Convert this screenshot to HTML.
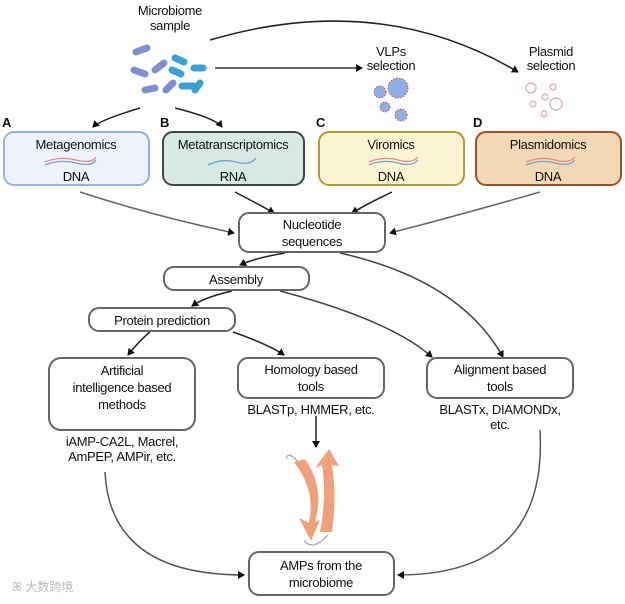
<!DOCTYPE html>
<html><head><meta charset="utf-8"><style>
body{margin:0;background:#fff;}
svg text{font-family:"Liberation Sans",sans-serif;fill:#111;}
</style></head><body>
<svg width="625" height="599" viewBox="0 0 625 599" xmlns="http://www.w3.org/2000/svg">
<defs>
<marker id="ah" markerWidth="8" markerHeight="8" refX="6" refY="4" orient="auto" markerUnits="userSpaceOnUse"><path d="M0,0 L7,4 L0,8 z" fill="#111"/></marker>
</defs>
<g font-size="13" text-anchor="middle" letter-spacing="-0.3">
<text x="170" y="15">Microbiome</text><text x="170" y="30">sample</text>
<text x="391" y="56">VLPs</text><text x="391" y="70">selection</text>
<text x="551" y="56">Plasmid</text><text x="551" y="70">selection</text>
</g>
<!-- bacteria -->
<g stroke-width="7" stroke-linecap="round">
<line x1="136" y1="52" x2="147" y2="48" stroke="#7d8fd1"/>
<line x1="134" y1="70" x2="145" y2="74" stroke="#7d8fd1"/>
<line x1="155" y1="70" x2="164" y2="63" stroke="#7d8fd1"/>
<line x1="145" y1="90" x2="155" y2="88" stroke="#7d8fd1"/>
<line x1="166" y1="90" x2="173" y2="83" stroke="#7d8fd1"/>
<line x1="175" y1="58" x2="184" y2="62" stroke="#3aa0d6"/>
<line x1="172" y1="70" x2="181" y2="74" stroke="#3aa0d6"/>
<line x1="182" y1="86" x2="193" y2="86" stroke="#3aa0d6"/>
<line x1="194" y1="68" x2="203" y2="68" stroke="#3aa0d6"/>
<line x1="195" y1="90" x2="200" y2="83" stroke="#3aa0d6"/>
</g>
<!-- VLPs -->
<g stroke="#d04a4a" stroke-width="1" stroke-dasharray="1.5 1.5" fill="#90aee6">
<circle cx="380" cy="92" r="6"/><circle cx="398" cy="88" r="10"/><circle cx="385" cy="107" r="5"/><circle cx="401" cy="115" r="6"/>
</g>
<g stroke="#d9a8ae" stroke-width="1.2" fill="none">
<circle cx="531" cy="88" r="5"/><circle cx="553" cy="87" r="3"/><circle cx="545" cy="97" r="3"/><circle cx="556" cy="104" r="6"/><circle cx="533" cy="104" r="3"/><circle cx="544" cy="114" r="3"/>
</g>
<!-- top arrows -->
<g fill="none" stroke-width="1.5">
<path d="M215 68 L362 68" stroke="#333" marker-end="url(#ah)"/>
<path d="M210 40 Q380 -10 518 72" stroke="#222" marker-end="url(#ah)"/>
<path d="M140 108 Q100 120 93 127" stroke="#222" marker-end="url(#ah)"/>
<path d="M175 108 Q215 118 222 127" stroke="#222" marker-end="url(#ah)"/>
</g>
<g font-size="13" font-weight="bold"><text x="2" y="127">A</text><text x="160" y="127">B</text><text x="316" y="127">C</text><text x="473" y="127">D</text></g>
<!-- omics boxes -->
<g stroke-width="2">
<rect x="4" y="132" width="145" height="53" rx="10" fill="#eef3fb" stroke="#93b2e0"/>
<rect x="163" y="132" width="141" height="53" rx="10" fill="#d8e8e4" stroke="#3b4a48"/>
<rect x="319" y="132" width="145" height="53" rx="10" fill="#fbf5d2" stroke="#b39a35"/>
<rect x="476" y="132" width="145" height="53" rx="10" fill="#f2d8b6" stroke="#9c5228"/>
</g>
<g font-size="13" text-anchor="middle" letter-spacing="-0.3">
<text x="76" y="149">Metagenomics</text><text x="76" y="181">DNA</text>
<text x="233" y="149">Metatranscriptomics</text><text x="233" y="181">RNA</text>
<text x="391" y="149">Viromics</text><text x="391" y="181">DNA</text>
<text x="548" y="149">Plasmidomics</text><text x="548" y="181">DNA</text>
</g>
<g fill="none" stroke-width="1.3">
<path d="M45 162 Q60 156 76 160 T96 157" stroke="#e28a8a"/><path d="M45 165 Q60 159 76 163 T96 160" stroke="#6fa3d0"/>
<path d="M208 165 Q222 158 236 162 T256 158" stroke="#6fa3d0"/>
<path d="M369 162 Q384 156 398 160 T418 157" stroke="#e28a8a"/><path d="M369 165 Q384 159 398 163 T418 160" stroke="#6fa3d0"/>
<path d="M526 162 Q541 156 555 160 T575 157" stroke="#e28a8a"/><path d="M526 165 Q541 159 555 163 T575 160" stroke="#6fa3d0"/>
</g>
<!-- to nucleotide -->
<g fill="none" stroke-width="1.5" marker-end="url(#ah)">
<path d="M80 192 Q150 215 234 233" stroke="#666"/>
<path d="M235 192 Q260 205 274 213" stroke="#222"/>
<path d="M392 192 Q365 205 352 213" stroke="#222"/>
<path d="M540 192 Q460 215 390 233" stroke="#666"/>
<path d="M285 253 Q255 258 240 265" stroke="#222"/>
<path d="M340 253 Q460 280 503 357" stroke="#444"/>
<path d="M232 291 Q205 297 192 306" stroke="#222"/>
<path d="M280 291 Q390 320 432 357" stroke="#444"/>
<path d="M150 332 Q140 340 128 355" stroke="#222"/>
<path d="M233 332 Q270 345 284 355" stroke="#222"/>
<path d="M316 416 L316 447" stroke="#222"/>
<path d="M105 472 Q110 575 244 575" stroke="#555"/>
<path d="M540 430 Q548 575 398 575" stroke="#555"/>
</g>
<!-- boxes -->
<g fill="#fff" stroke="#666" stroke-width="2">
<rect x="239" y="213" width="146" height="39" rx="10"/>
<rect x="164" y="267" width="145" height="23" rx="10"/>
<rect x="89" y="308" width="146" height="23" rx="10"/>
<rect x="49" y="358" width="146" height="72" rx="12"/>
<rect x="238" y="358" width="146" height="40" rx="10"/>
<rect x="427" y="358" width="146" height="40" rx="10"/>
<rect x="249" y="552" width="145" height="43" rx="10"/>
</g>
<g font-size="13" text-anchor="middle" letter-spacing="-0.3">
<text x="312" y="229">Nucleotide</text><text x="312" y="246">sequences</text>
<text x="236" y="284">Assembly</text>
<text x="162" y="325">Protein prediction</text>
<text x="122" y="375">Artificial</text><text x="122" y="392">intelligence based</text><text x="122" y="409">methods</text>
<text x="311" y="374">Homology based</text><text x="311" y="391">tools</text>
<text x="500" y="374">Alignment based</text><text x="500" y="391">tools</text>
<text x="122" y="446">iAMP-CA2L, Macrel,</text><text x="122" y="461">AmPEP, AMPir, etc.</text>
<text x="311" y="414">BLASTp, HMMER, etc.</text>
<text x="500" y="414">BLASTx, DIAMONDx,</text><text x="500" y="429">etc.</text>
<text x="321" y="570">AMPs from the</text><text x="321" y="587">microbiome</text>
</g>
<!-- beta hairpin -->
<g fill="#f0a07a">
<path d="M294 462 Q316 490 309 523 L299 518 L311 541 L320 520 L315 522 Q325 488 305 459 z"/>
<path d="M320 532 Q327 495 322 465 L315 468 L329 449 L339 466 L332 465 Q337 497 332 532 z"/>
</g>
<g fill="none" stroke="#aaa" stroke-width="1.3">
<path d="M298 462 Q288 450 286 459"/>
<path d="M304 540 Q312 552 328 535"/>
</g>
<text x="12" y="591" font-size="12" fill="#bbb" style="fill:#bbb">ꕤ 大数跨境</text>
</svg>
</body></html>
